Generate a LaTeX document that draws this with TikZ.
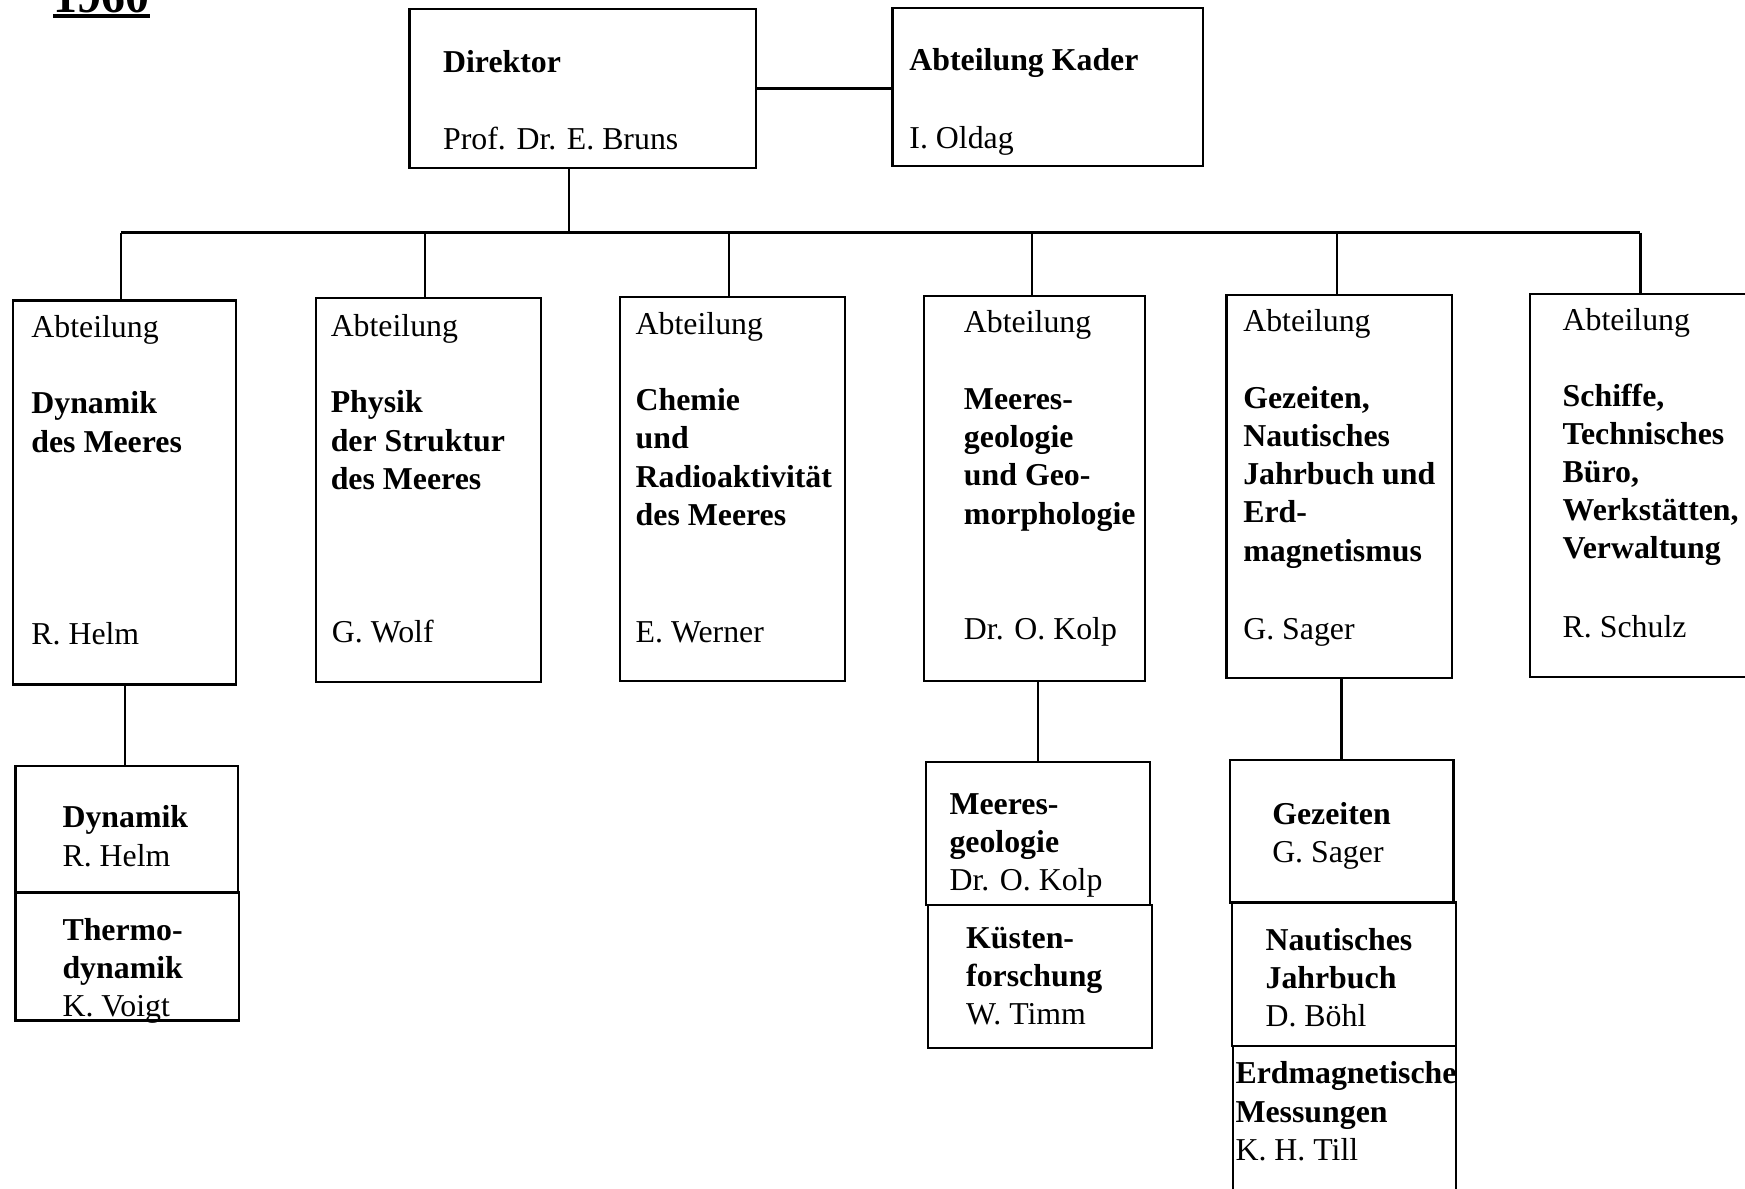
\documentclass[tikz,border=0pt]{standalone}
\usepackage{fontspec}
\setmainfont{Liberation Serif}
\usetikzlibrary{calc}
\tikzset{
  box/.style={draw, line width=2pt, rectangle, inner sep=0pt},
  txt/.style={anchor=base west, align=left, inner sep=0pt, font=\fontsize{28.6}{34.3}\selectfont},
  conn/.style={line width=2pt},
}
\begin{document}
\begin{tikzpicture}[x=1pt,y=-1pt]
\useasboundingbox (0,0) rectangle (1568,1068);
% header
\node[anchor=base west, inner sep=0pt, font=\fontsize{43}{50}\selectfont\bfseries] (yr) at (48,11) {1960};
\draw[line width=3pt] ($(yr.base west)+(0,3.5)$) -- ($(yr.base east)+(0,3.5)$);
% top boxes
\node[box, minimum width=311pt, minimum height=143pt] (dir) at (523.5,79.5) {};
\node[box, minimum width=279pt, minimum height=142pt] (kad) at (941.5,78) {};
\node[txt] (dirT) at (398,65) {\bfseries Direktor};
\node[txt] (dirN) at (398,134) {Prof. Dr. E. Bruns};
\node[txt] (kadT) at (817,63) {\bfseries Abteilung Kader};
\node[txt] (kadN) at (817,133) {I. Oldag};
% departments
\node[box, minimum width=200pt, minimum height=345pt] (a1) at (112,442.5) {};
\node[box, minimum width=202pt, minimum height=345pt] (a2) at (385,440.5) {};
\node[box, minimum width=202pt, minimum height=345pt] (a3) at (658,439.5) {};
\node[box, minimum width=199pt, minimum height=346pt] (a4) at (929.5,439) {};
\node[box, minimum width=203pt, minimum height=344pt] (a5) at (1203.5,437) {};
\node[box, minimum width=202pt, minimum height=344pt] (a6) at (1476,436) {};
% department texts (base = last line)
\node[txt] (a1A) at (28,303) {Abteilung};
\node[txt] (a1T) at (28,406.3) {\bfseries Dynamik\\\bfseries des Meeres};
\node[txt] (a1N) at (28,579) {R. Helm};
\node[txt] (a2A) at (297,302) {Abteilung};
\node[txt] (a2T) at (297,439.6) {\bfseries Physik\\\bfseries der Struktur\\\bfseries des Meeres};
\node[txt] (a2N) at (298,577) {G. Wolf};
\node[txt] (a3A) at (571,301) {Abteilung};
\node[txt] (a3T) at (571,471.9) {\bfseries Chemie\\\bfseries und\\\bfseries Radioaktivität\\\bfseries des Meeres};
\node[txt] (a3N) at (571,577) {E. Werner};
\node[txt] (a4A) at (866,299) {Abteilung};
\node[txt] (a4T) at (866,470.9) {\bfseries Meeres-\\\bfseries geologie\\\bfseries und Geo-\\\bfseries morphologie};
\node[txt] (a4N) at (866,575) {Dr. O. Kolp};
\node[txt] (a5A) at (1117,298) {Abteilung};
\node[txt] (a5T) at (1117,504.2) {\bfseries Gezeiten,\\\bfseries Nautisches\\\bfseries Jahrbuch und\\\bfseries Erd-\\\bfseries magnetismus};
\node[txt] (a5N) at (1117,575) {G. Sager};
\node[txt] (a6A) at (1404,297) {Abteilung};
\node[txt] (a6T) at (1404,502.2) {\bfseries Schiffe,\\\bfseries Technisches\\\bfseries Büro,\\\bfseries Werkstätten,\\\bfseries Verwaltung};
\node[txt] (a6N) at (1404,573) {R. Schulz};
% sub boxes
\node[box, minimum width=200pt, minimum height=114pt] (s1a) at (114,745) {};
\node[box, minimum width=201pt, minimum height=115pt] (s1b) at (114.5,859.5) {};
\node[box, minimum width=201pt, minimum height=128pt] (s4a) at (932.5,749) {};
\node[box, minimum width=201pt, minimum height=129pt] (s4b) at (934.5,877.5) {};
\node[box, minimum width=201pt, minimum height=128pt] (s5a) at (1205.5,747) {};
\node[box, minimum width=201pt, minimum height=129pt] (s5b) at (1207.5,875.5) {};
\node[box, minimum width=200pt, minimum height=160pt] (s5c) at (1208,1020) {};
\node[txt] (s1aT) at (56,778.3) {\bfseries Dynamik\\R. Helm};
\node[txt] (s1bT) at (56,913.6) {\bfseries Thermo-\\\bfseries dynamik\\K. Voigt};
\node[txt] (s4aT) at (853,800.6) {\bfseries Meeres-\\\bfseries geologie\\Dr. O. Kolp};
\node[txt] (s4bT) at (868,920.6) {\bfseries Küsten-\\\bfseries forschung\\W. Timm};
\node[txt] (s5aT) at (1143,775.3) {\bfseries Gezeiten\\G. Sager};
\node[txt] (s5bT) at (1137,922.6) {\bfseries Nautisches\\\bfseries Jahrbuch\\D. Böhl};
\node[txt] (s5cT) at (1110,1042.6) {\bfseries Erdmagnetische\\\bfseries Messungen\\K. H. Till};
% connectors
\coordinate (bus) at (511,209);
\draw[conn] (dir.east) -- (dir.east -| kad.west);
\draw[conn] (dir.south -| bus) -- (bus);
\draw[conn] ($(a1.north |- bus)+(-3,0)$) -- ($(a6.north |- bus)+(-2,0)$);
\foreach \n/\dx in {a1/-3,a2/-3,a3/-3,a4/-2,a5/-2,a6/-2} {
  \draw[conn] ($(\n.north |- bus)+(\dx,0)$) -- ($(\n.north)+(\dx,0)$);
}
\draw[conn] (a1.south) -- (a1.south |- s1a.north);
\draw[conn] (s4a.north |- a4.south) -- (s4a.north);
\draw[conn] (s5a.north |- a5.south) -- (s5a.north);
\end{tikzpicture}
\end{document}
